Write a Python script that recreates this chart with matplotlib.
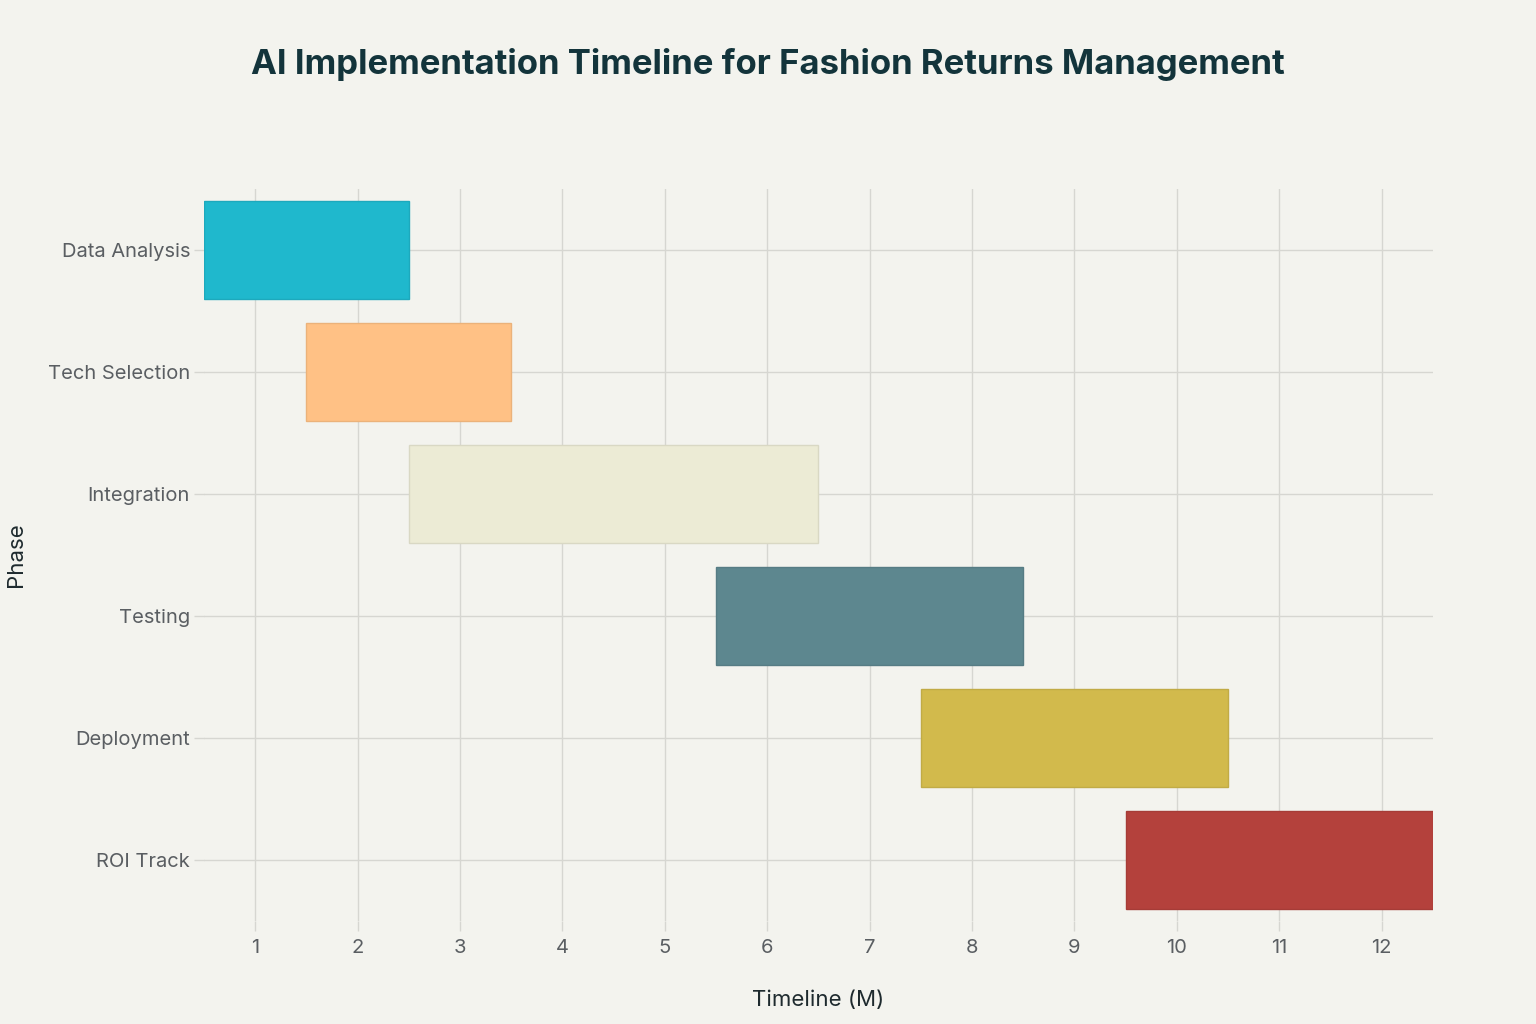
import matplotlib.pyplot as plt
import matplotlib.colors as mcolors

# phases of the rollout, top to bottom
phases = ["Data Analysis", "Tech Selection", "Integration", "Testing", "Deployment", "ROI Track"]
start_month = [0.5, 1.5, 2.5, 5.5, 7.5, 9.5]
end_month = [2.5, 3.5, 6.5, 8.5, 10.5, 12.5]
bar_colors = ["#1FB8CD", "#FFC185", "#ECEBD5", "#5D878F", "#D2BA4C", "#B4413C"]
month_ticks = [1, 2, 3, 4, 5, 6, 7, 8, 9, 10, 11, 12]

plt.rcParams["font.family"] = ["Inter", "DejaVu Sans"]

bg = "#F3F3EE"
grid_col = "#D6D6D1"

fig = plt.figure(figsize=(15.36, 10.24), dpi=100, facecolor=bg)
ax = fig.add_axes([0.1328, 0.1006, 0.8001, 0.7148], facecolor=bg)

for i in range(len(phases)):
    edge = [c * 0.92 for c in mcolors.to_rgb(bar_colors[i])]
    ax.barh(i, end_month[i] - start_month[i], left=start_month[i], height=0.8,
            color=bar_colors[i], edgecolor=edge, linewidth=1, zorder=3)

ax.set_yticks(range(len(phases)))
ax.set_yticklabels(phases)
ax.set_xticks(month_ticks)
ax.set_xlim(0.5, 12.5)
ax.set_ylim(5.5, -0.5)

ax.grid(True, color=grid_col, linewidth=1, zorder=0)
for s in ax.spines.values():
    s.set_visible(False)
ax.tick_params(axis="both", length=7, width=1, color=grid_col, labelsize=14.5,
               labelcolor="#5A5E62", pad=3)
ax.tick_params(axis="x", pad=6)

ax.set_xlabel("Timeline (M)", fontsize=16, color="#1E2A2E", labelpad=24)
ax.set_ylabel("Phase", fontsize=16, color="#1E2A2E", labelpad=16)

fig.text(0.5, 0.937, "AI Implementation Timeline for Fashion Returns Management",
         ha="center", va="center", fontsize=25, fontweight="bold", color="#13343B")

fig.savefig("out.png", dpi=100, facecolor=bg)
